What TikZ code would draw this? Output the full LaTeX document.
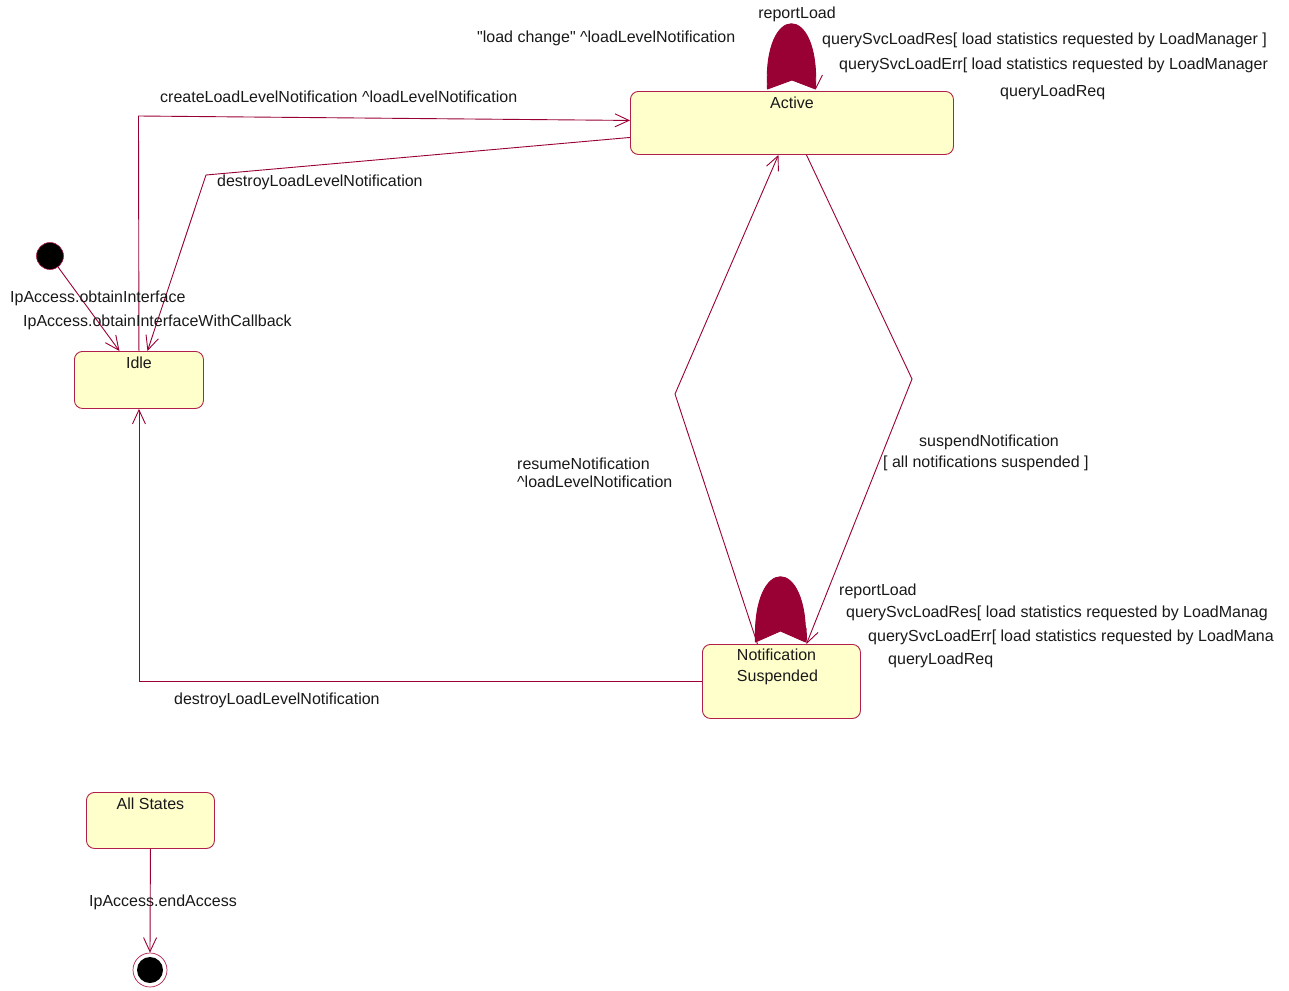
\documentclass[tikz,border=0pt]{standalone}
\usepackage{fontspec}
\setmainfont{Liberation Sans}[Ligatures=TeXOff]
\usetikzlibrary{arrows.meta,calc}
\definecolor{edgecol}{RGB}{153,0,51}
\definecolor{boxfill}{RGB}{255,255,204}
\definecolor{boxline}{RGB}{176,32,74}
\definecolor{txt}{RGB}{25,25,25}
\begin{document}
\begin{tikzpicture}[x=1pt,y=-1pt,
  font=\fontsize{16}{19}\selectfont,
  state/.style={draw=boxline, fill=boxfill, line width=0.9pt, rounded corners=8pt,
    inner sep=0pt, anchor=north west},
  stitle/.style={anchor=north, inner sep=0pt, yshift=-5.5pt, text=txt, align=left,
    font=\fontsize{16}{21}\selectfont},
  edge/.style={draw=edgecol, line width=0.9pt, -{Straight Barb[length=14pt,width=13pt]}},
  plain/.style={draw=edgecol, line width=0.9pt},
  loopfill/.style={fill=edgecol, draw=edgecol, line width=0.9pt, line join=round},
  lbl/.style={anchor=base west, inner sep=0pt, text=txt}]
\useasboundingbox (0,0) rectangle (1289,990);

% states
\node[state, minimum width=323pt, minimum height=63pt,
  label={[stitle]north:Active}] (act) at (630,91) {};
\node[state, minimum width=129pt, minimum height=57pt,
  label={[stitle]north:Idle}] (idle) at (74,351) {};
\node[state, minimum width=158pt, minimum height=74pt,
  label={[stitle,xshift=-4pt,yshift=1pt]north:Notification\\Suspended}] (notif) at (702,644) {};
\node[state, minimum width=128pt, minimum height=56pt,
  label={[stitle]north:All States}] (all) at (86,792) {};

% pseudo states
\node[circle, fill=black, draw=boxline, line width=0.6pt, minimum size=27pt, inner sep=0pt] (init) at (50,256) {};
\node[circle, draw=boxline, fill=white, line width=0.7pt, minimum size=34pt, inner sep=0pt] (fin) at (150,970) {};
\node[circle, fill=black, minimum size=26pt, inner sep=0pt] (fincore) at (fin.center) {};

% helper coordinates
\coordinate (cUp) at (138.5,116);
\coordinate (cDes) at (206,175);
\coordinate (cRes) at (675,394);
\coordinate (cSus) at (912,379);

% transitions
\draw[edge] (init) -- ([xshift=-19.5pt]idle.north);
\draw[edge] (idle.north) -- (cUp) -- ([yshift=2.5pt]act.west);
\draw[edge] ([yshift=-14.5pt]act.west) -- (cDes) -- ([xshift=8.5pt]idle.north);
\draw[edge] ([xshift=-24pt]notif.north) -- (cRes) -- ([xshift=-13.5pt]act.south);
\draw[edge] ([xshift=14.5pt]act.south) -- (cSus) -- ([xshift=25pt]notif.north);
\draw[edge] (notif.west) -| (idle.south);
\draw[edge] (all.south) -- (fin.north);

% self loops
\fill[loopfill] ($(act.north)+(-24.5,-2)$) .. controls ($(act.north)+(-29,-89)$) and ($(act.north)+(28,-89)$) .. ($(act.north)+(23.5,-2)$) -- ($(act.north)+(0,-11)$) -- cycle;
\draw[plain] ($(act.north)+(23.5,-2)$) -- ($(act.north)+(30.5,-16)$);
\fill[loopfill] ($(notif.north)+(-26,-2)$) .. controls ($(notif.north)+(-29,-89)$) and ($(notif.north)+(27,-89)$) .. ($(notif.north)+(24,-2)$) -- ($(notif.north)+(-1,-13)$) -- cycle;

% labels
\node[lbl, anchor=base] (l1) at (797,19) {reportLoad};
\node[lbl] (l2) at (822,45) {querySvcLoadRes[ load statistics requested by LoadManager ]};
\node[lbl] (l3) at (839,69) {querySvcLoadErr[ load statistics requested by LoadManager};
\node[lbl] (l4) at (1000,96) {queryLoadReq};
\node[lbl] (l5) at (477,43) {"load change" \textasciicircum loadLevelNotification};
\node[lbl] (l6) at (160,102) {createLoadLevelNotification \textasciicircum loadLevelNotification};
\node[lbl] (l7) at (217,186) {destroyLoadLevelNotification};
\node[lbl] (l8) at (10,302) {IpAccess.obtainInterface};
\node[lbl] (l9) at (23,326) {IpAccess.obtainInterfaceWithCallback};
\node[lbl] (l10) at (517,469) {resumeNotification};
\node[lbl] (l11) at (517,487) {\textasciicircum loadLevelNotification};
\node[lbl] (l12) at (919,446) {suspendNotification};
\node[lbl] (l13) at (883,467) {[ all notifications suspended ]};
\node[lbl] (l14) at (839,595) {reportLoad};
\node[lbl] (l15) at (846,617) {querySvcLoadRes[ load statistics requested by LoadManag};
\node[lbl] (l16) at (868,641) {querySvcLoadErr[ load statistics requested by LoadMana};
\node[lbl] (l17) at (888,664) {queryLoadReq};
\node[lbl] (l18) at (174,704) {destroyLoadLevelNotification};
\node[lbl] (l19) at (89,906) {IpAccess.endAccess};
\end{tikzpicture}
\end{document}
